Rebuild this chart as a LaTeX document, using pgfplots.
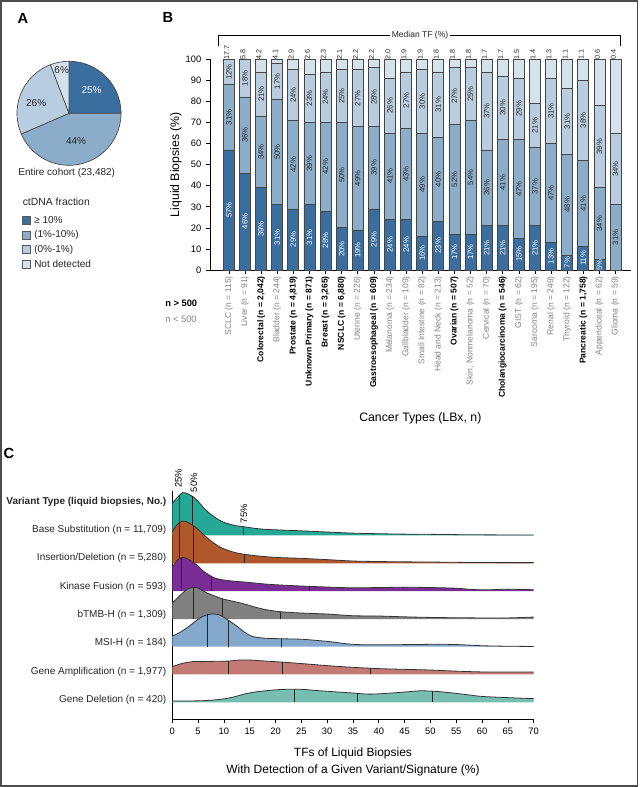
\documentclass[border=0pt]{standalone}
\usepackage{pgfplots}
\pgfplotsset{compat=1.18}
\usepackage{pgfplotstable}
\usepgfplotslibrary{polar}
\usepackage{fontspec}
\setmainfont{Liberation Sans}

\definecolor{cD}{RGB}{58,110,158}
\definecolor{cM}{RGB}{139,173,201}
\definecolor{cL}{RGB}{184,206,224}
\definecolor{cN}{RGB}{212,226,237}
\definecolor{barline}{RGB}{70,70,70}
\definecolor{gtxt}{RGB}{130,130,130}
\definecolor{rBS}{RGB}{38,168,150}
\definecolor{rID}{RGB}{176,88,44}
\definecolor{rKF}{RGB}{123,45,150}
\definecolor{rTM}{RGB}{128,128,128}
\definecolor{rMS}{RGB}{132,168,204}
\definecolor{rGA}{RGB}{196,122,116}
\definecolor{rGD}{RGB}{118,190,176}

% Panel B: share of liquid biopsies per ctDNA fraction class, and median TF
\pgfplotstableread{
i d m l n med
0 57 31 12 0 17.7
1 46 36 18 0 5.8
2 39 34 21 6 4.2
3 31 50 17 2 4.1
4 29 42 24 5 2.9
5 31 39 23 7 2.6
6 28 42 24 6 2.3
7 20 50 25 5 2.1
8 19 49 27 5 2.2
9 29 39 28 4 2.2
10 24 41 26 9 2.0
11 24 43 27 6 1.9
12 16 49 30 5 1.9
13 23 40 31 6 1.8
14 17 52 27 4 1.8
15 17 54 25 4 1.8
16 21 36 37 6 1.7
17 21 41 30 8 1.7
18 15 47 29 9 1.5
19 21 37 21 21 1.4
20 13 47 31 9 1.3
21 7 48 31 14 1.1
22 11 41 38 10 1.1
23 5 34 39 22 0.6
24 0 31 34 35 0.4
}\dataB

% Panel C: ridge heights (px above each ridge baseline)
\pgfplotstableread{
x h
0 32
1 38
2 42.7
3 41.5
4 38.7
5 34
6 28
7 23
8 19
9 15.5
10 13
12 10
14 8.5
16 7
18 6
21 5.3
25 4.5
30 3.3
35 2.2
40 1.6
45 1.2
50 1
55 0.7
60 0.5
65 0.4
70 0.3
}\tBS
\pgfplotstableread{
x h
0 31.7
1 39
2 42.3
3 41
4 38
5 34
6 29
7 24.5
8 20.5
9 17
10 14.5
12 11
14 9
16 7.7
18 6.7
21 5.7
25 5
30 3.7
35 2.3
40 1.8
45 1.5
50 1.3
55 1
60 0.8
65 0.7
70 0.7
}\tID
\pgfplotstableread{
x h
0 24
1 31
2 33.7
3 32
4 29
5 25
6 20
7 16.5
8 13.5
9 12
10 11
12 9.8
14 9
16 8
18 7
21 6
25 5
30 4
35 3.2
40 3.5
45 3.8
50 3.5
55 2.8
58 1.6
61 1.2
65 1.8
70 1.3
}\tKF
\pgfplotstableread{
x h
0 16.3
1 21
2 26
3 30
4 31.7
5 31
6 28
7 25.5
8 23.5
9 21.5
10 19.8
12 17.5
14 15
16 12
18 9.5
21 7.3
25 6
30 5
35 3.3
40 3
45 2.2
50 1.6
55 1.3
60 1.1
65 1.1
70 2
}\tTM
\pgfplotstableread{
x h
0 10.7
1 13
2 16
3 19.5
4 23.5
5 27.5
6 30.5
7 32.3
8 32.7
9 32
10 29.5
11 26
12 22.5
13 18.5
14 14.5
15 11.5
16 9.7
18 8.5
21 8
25 7.5
28 6.3
31 4.8
34 2.8
37 2
42 2
47 2.2
52 2.5
56 2
60 1
65 0.5
70 0.3
}\tMS
\pgfplotstableread{
x h
0 7.7
2 11
4 12.7
6 12.7
8 13
11 13.3
13 14.3
15 14.3
18 13.3
21 12.3
25 10.8
30 8.7
35 7
40 5.7
45 5
50 4.3
55 3.2
60 2.4
65 2.3
70 2.3
}\tGA
\pgfplotstableread{
x h
0 1.3
5 1.5
8 2.3
10 3.5
12 5.5
14 8.3
16 10.3
18 11.5
20 12.5
22 13
25 13
28 11.8
31 10.7
35 9.3
38 8.2
41 8.8
45 10.3
48 11.5
51 11
54 9.5
57 7.7
60 5.9
65 4.7
70 3.7
}\tGD

\newcommand{\fs}[1]{\fontsize{#1}{#1}\selectfont}

\begin{document}
\begin{tikzpicture}
\path[use as bounding box] (0,0) rectangle (480pt,-590.25pt);

% ---------------- Panel A: pie ----------------
\def\pA{25.0}\def\pB{43.5}\def\pC{25.7}\def\pD{5.8}
\pgfmathsetmacro{\aA}{90}
\pgfmathsetmacro{\aB}{\aA-3.6*\pA}
\pgfmathsetmacro{\aC}{\aB-3.6*\pB}
\pgfmathsetmacro{\aD}{\aC-3.6*\pC}
\pgfmathsetmacro{\aE}{\aD-3.6*\pD}
\begin{polaraxis}[at={(51.75pt,-84.975pt)}, anchor=center,
  width=78pt, height=78pt, scale only axis, hide axis,
  ymin=0, ymax=1, clip=false]
\addplot[fill=cD, draw=barline, line width=0.5pt, domain=\aB:\aA, samples=60] {1} -- (axis cs:0,0) -- cycle;
\addplot[fill=cM, draw=barline, line width=0.5pt, domain=\aC:\aB, samples=80] {1} -- (axis cs:0,0) -- cycle;
\addplot[fill=cL, draw=barline, line width=0.5pt, domain=\aD:\aC, samples=60] {1} -- (axis cs:0,0) -- cycle;
\addplot[fill=cN, draw=barline, line width=0.5pt, domain=\aE:\aD, samples=20] {1} -- (axis cs:0,0) -- cycle;
\node[white, font=\fs{7.5}] at (axis cs:45.7,0.62) {25\%};
\node[black!85, font=\fs{7.5}] at (axis cs:-76,0.56) {44\%};
\node[black!85, font=\fs{7.5}] at (axis cs:163,0.66) {26\%};
\node[black!85, font=\fs{7.5}] at (axis cs:99.6,0.84) {6\%};
\end{polaraxis}

% ---------------- Panel B: stacked bars ----------------
\begin{axis}[at={(157.5pt,-202.5pt)}, anchor=south west,
  width=315.5pt, height=158pt, scale only axis,
  ybar stacked, bar width=8.25pt,
  xmin=-1.17, xmax=24.94, ymin=0, ymax=100,
  axis x line*=bottom, axis y line*=left,
  axis line style={-, black, line width=0.6pt},
  tick align=outside, major tick length=3pt, tick style={black, line width=0.5pt},
  ytick={0,10,...,100}, xtick={0,...,24},
  /pgf/number format/assume math mode=true,
  yticklabel style={font=\fs{7}},
  xticklabel style={rotate=90, anchor=east, font=\fs{6.4}, inner sep=1.5pt},
  xticklabels={
    {\color{gtxt}SCLC (n = 115)},
    {\color{gtxt}Liver (n = 91)},
    {\textbf{Colorectal (n = 2,042)}},
    {\color{gtxt}Bladder (n = 244)},
    {\textbf{Prostate (n = 4,819)}},
    {\textbf{Unknown Primary (n = 871)}},
    {\textbf{Breast (n = 3,265)}},
    {\textbf{NSCLC (n = 6,880)}},
    {\color{gtxt}Uterine (n = 226)},
    {\textbf{Gastroesophageal (n = 609)}},
    {\color{gtxt}Melanoma (n = 234)},
    {\color{gtxt}Gallbladder (n = 109)},
    {\color{gtxt}Small Intestine (n = 82)},
    {\color{gtxt}Head and Neck (n = 213)},
    {\textbf{Ovarian (n = 507)}},
    {\color{gtxt}Skin, Nonmelanoma (n = 52)},
    {\color{gtxt}Cervical (n = 70)},
    {\textbf{Cholangiocarcinoma (n = 546)}},
    {\color{gtxt}GIST (n = 62)},
    {\color{gtxt}Sarcoma (n = 195)},
    {\color{gtxt}Renal (n = 249)},
    {\color{gtxt}Thyroid (n = 122)},
    {\textbf{Pancreatic (n = 1,758)}},
    {\color{gtxt}Appendiceal (n = 62)},
    {\color{gtxt}Glioma (n = 59)}},
  ylabel={Liquid Biopsies (\%)},
  ylabel style={font=\fs{9.2}, at={(axis description cs:-0.081,0.5)}, anchor=center},
  xlabel={Cancer Types (LBx, n)},
  xlabel style={font=\fs{9.2}, at={(axis description cs:0.5,-0.702)}, anchor=center},
]
\addplot[fill=cD, draw=barline, line width=0.6pt] table[x=i, y=d] {\dataB};
\addplot[fill=cM, draw=barline, line width=0.6pt] table[x=i, y=m] {\dataB};
\addplot[fill=cL, draw=barline, line width=0.6pt] table[x=i, y=l] {\dataB};
\addplot[fill=cN, draw=barline, line width=0.6pt] table[x=i, y=n] {\dataB};
\end{axis}

% overlay with the in-bar labels and median TF
\begin{axis}[at={(157.5pt,-202.5pt)}, anchor=south west,
  width=315.5pt, height=158pt, scale only axis, hide axis, clip=false,
  xmin=-1.17, xmax=24.94, ymin=0, ymax=100,
  /pgf/number format/assume math mode=true]
\addplot[draw=none, mark=none, point meta=\thisrow{d}, skip coords between index={24}{25},
  nodes near coords={\pgfmathprintnumber[fixed,precision=0]{\pgfplotspointmeta}\%},
  every node near coord/.append style={rotate=90, anchor=center, font=\fs{5.8}, text=white, inner sep=0pt}]
  table[x=i, y expr=\thisrow{d}/2] {\dataB};
\addplot[draw=none, mark=none, point meta=\thisrow{m},
  nodes near coords={\pgfmathprintnumber[fixed,precision=0]{\pgfplotspointmeta}\%},
  every node near coord/.append style={rotate=90, anchor=center, font=\fs{5.8}, text=black!85, inner sep=0pt}]
  table[x=i, y expr=\thisrow{d}+\thisrow{m}/2] {\dataB};
\addplot[draw=none, mark=none, point meta=\thisrow{l},
  nodes near coords={\pgfmathprintnumber[fixed,precision=0]{\pgfplotspointmeta}\%},
  every node near coord/.append style={rotate=90, anchor=center, font=\fs{5.8}, text=black!85, inner sep=0pt}]
  table[x=i, y expr=\thisrow{d}+\thisrow{m}+\thisrow{l}/2] {\dataB};
\addplot[draw=none, mark=none, point meta=\thisrow{med},
  nodes near coords={\pgfmathprintnumber[fixed,fixed zerofill,precision=1]{\pgfplotspointmeta}},
  every node near coord/.append style={rotate=90, anchor=west, font=\fs{5.4}, text=black!85, inner sep=0pt, yshift=1.6pt}]
  table[x=i, y expr=100] {\dataB};
\end{axis}

% ---------------- Panel C: ridgelines ----------------
\begin{axis}[at={(129.2pt,-539.5pt)}, anchor=south west,
  width=271.05pt, height=171.45pt, scale only axis, clip=false,
  xmin=0, xmax=70, ymin=0, ymax=228.6,
  axis x line*=bottom, axis y line*=left,
  axis line style={-, black, line width=0.6pt},
  xtick={0,5,...,70}, tick align=outside, major tick length=3pt,
  xtick style={black, line width=0.5pt}, ytick style={draw=none},
  /pgf/number format/assume math mode=true,
  xticklabel style={font=\fs{7}},
  ytick={19.3,47.3,76,104.3,132.6,161,189.3,217.3},
  yticklabels={{Gene Deletion (n = 420)},{Gene Amplification (n = 1,977)},{MSI-H (n = 184)},
    {bTMB-H (n = 1,309)},{Kinase Fusion (n = 593)},{Insertion/Deletion (n = 5,280)},
    {Base Substitution (n = 11,709)},{\textbf{Variant Type (liquid biopsies, No.)}}},
  yticklabel style={font=\fs{7.5}, text=black!85, xshift=2pt},
  xlabel={TFs of Liquid Biopsies\\With Detection of a Given Variant/Signature (\%)},
  xlabel style={font=\fontsize{9}{12.5}\selectfont, align=center, at={(axis description cs:0.5,-0.185)}, anchor=center},
]
% Base substitution
\addplot[fill=rBS, draw=none, smooth] table[x=x, y expr=\thisrow{h}+184] {\tBS} -- (axis cs:70,184) -- (axis cs:0,184) -- cycle;
\addplot[black!80, line width=0.6pt, smooth] table[x=x, y expr=\thisrow{h}+184] {\tBS};
\addplot[black!85, line width=0.7pt] coordinates {(1.4,184) (1.4,224.5)};
\addplot[black!85, line width=0.7pt] coordinates {(3.94,184) (3.94,222.9)};
\addplot[black!85, line width=0.7pt] coordinates {(13.7,184) (13.7,192.7)};
% Insertion/deletion
\addplot[fill=rID, draw=none, smooth] table[x=x, y expr=\thisrow{h}+156] {\tID} -- (axis cs:70,156) -- (axis cs:0,156) -- cycle;
\addplot[black!80, line width=0.6pt, smooth] table[x=x, y expr=\thisrow{h}+156] {\tID};
\addplot[black!85, line width=0.7pt] coordinates {(1.3,156) (1.3,196.5)};
\addplot[black!85, line width=0.7pt] coordinates {(4.2,156) (4.2,193.3)};
\addplot[black!85, line width=0.7pt] coordinates {(14,156) (14,165)};
% Kinase fusion
\addplot[fill=rKF, draw=none, smooth] table[x=x, y expr=\thisrow{h}+128.3] {\tKF} -- (axis cs:70,128.3) -- (axis cs:0,128.3) -- cycle;
\addplot[black!80, line width=0.6pt, smooth] table[x=x, y expr=\thisrow{h}+128.3] {\tKF};
\addplot[black!85, line width=0.7pt] coordinates {(1.7,128.3) (1.7,161.3)};
\addplot[black!85, line width=0.7pt] coordinates {(7.5,128.3) (7.5,143.3)};
\addplot[black!85, line width=0.7pt] coordinates {(26.5,128.3) (26.5,133)};
% bTMB-H
\addplot[fill=rTM, draw=none, smooth] table[x=x, y expr=\thisrow{h}+100.3] {\tTM} -- (axis cs:70,100.3) -- (axis cs:0,100.3) -- cycle;
\addplot[black!80, line width=0.6pt, smooth] table[x=x, y expr=\thisrow{h}+100.3] {\tTM};
\addplot[black!85, line width=0.7pt] coordinates {(4.1,100.3) (4.1,132)};
\addplot[black!85, line width=0.7pt] coordinates {(9.7,100.3) (9.7,120.6)};
\addplot[black!85, line width=0.7pt] coordinates {(21,100.3) (21,107.6)};
% MSI-H
\addplot[fill=rMS, draw=none, smooth] table[x=x, y expr=\thisrow{h}+72.6] {\tMS} -- (axis cs:70,72.6) -- (axis cs:0,72.6) -- cycle;
\addplot[black!80, line width=0.6pt, smooth] table[x=x, y expr=\thisrow{h}+72.6] {\tMS};
\addplot[black!85, line width=0.7pt] coordinates {(6.9,72.6) (6.9,104.8)};
\addplot[black!85, line width=0.7pt] coordinates {(10.9,72.6) (10.9,98.9)};
\addplot[black!85, line width=0.7pt] coordinates {(21.1,72.6) (21.1,80.6)};
% Gene amplification
\addplot[fill=rGA, draw=none, smooth] table[x=x, y expr=\thisrow{h}+45] {\tGA} -- (axis cs:70,45) -- (axis cs:0,45) -- cycle;
\addplot[black!80, line width=0.6pt, smooth] table[x=x, y expr=\thisrow{h}+45] {\tGA};
\addplot[black!85, line width=0.7pt] coordinates {(10.9,45) (10.9,58.3)};
\addplot[black!85, line width=0.7pt] coordinates {(21.3,45) (21.3,57.2)};
\addplot[black!85, line width=0.7pt] coordinates {(38.4,45) (38.4,51)};
% Gene deletion
\addplot[fill=rGD, draw=none, smooth] table[x=x, y expr=\thisrow{h}+17] {\tGD} -- (axis cs:70,17) -- (axis cs:0,17) -- cycle;
\addplot[black!80, line width=0.6pt, smooth] table[x=x, y expr=\thisrow{h}+17] {\tGD};
\addplot[black!85, line width=0.7pt] coordinates {(23.6,17) (23.6,30)};
\addplot[black!85, line width=0.7pt] coordinates {(35.8,17) (35.8,26.1)};
\addplot[black!85, line width=0.7pt] coordinates {(50.4,17) (50.4,28)};
% quartile captions
\node[rotate=90, anchor=west, font=\fs{7}, inner sep=0pt] at (axis cs:1.2,231.5) {25\%};
\node[rotate=90, anchor=west, font=\fs{7}, inner sep=0pt] at (axis cs:4.2,227) {50\%};
\node[rotate=90, anchor=west, font=\fs{7}, inner sep=0pt] at (axis cs:13.9,196) {75\%};
\end{axis}

% ---------------- free text, legend, frame ----------------
\begin{scope}[x=0.75pt, y=-0.75pt]
\draw[black!70, line width=1.3pt] (1,1) rectangle (637.5,786);
\node[font=\bfseries\fs{11}] at (23,18) {A};
\node[font=\bfseries\fs{11}] at (168,17) {B};
\node[font=\bfseries\fs{11}] at (9,453) {C};
\node[font=\fs{7.5}, text=black!85] at (66.7,173.3) {Entire cohort (23,482)};
\node[font=\fs{7.8}, anchor=west, inner sep=0pt, text=black!85] at (22.5,201.7) {ctDNA fraction};
\foreach \yy/\cc/\tt in {220.3/cD/{≥ 10\%}, 235.3/cM/{(1\%-10\%)}, 249.8/cL/{(0\%-1\%)}, 264.3/cN/{Not detected}}{
  \draw[fill=\cc, draw=black!65, line width=0.5pt] (22.7,\yy-4) rectangle (30.7,\yy+4);
  \node[font=\fs{7.5}, anchor=west, inner sep=0pt, text=black!85] at (34,\yy) {\tt};
}
\node[font=\bfseries\fs{7}, anchor=west, inner sep=0pt] at (165,303.3) {n > 500};
\node[font=\fs{7}, anchor=west, inner sep=0pt, text=gtxt] at (165,319) {n < 500};
\draw[black, line width=0.6pt] (218.3,46.5) -- (218.3,35) -- (620,35) -- (620,46.5);
\node[fill=white, font=\fs{6.4}, inner sep=1.5pt, text=black!85] at (420,35) {Median TF (\%)};
\end{scope}
\end{tikzpicture}
\end{document}
